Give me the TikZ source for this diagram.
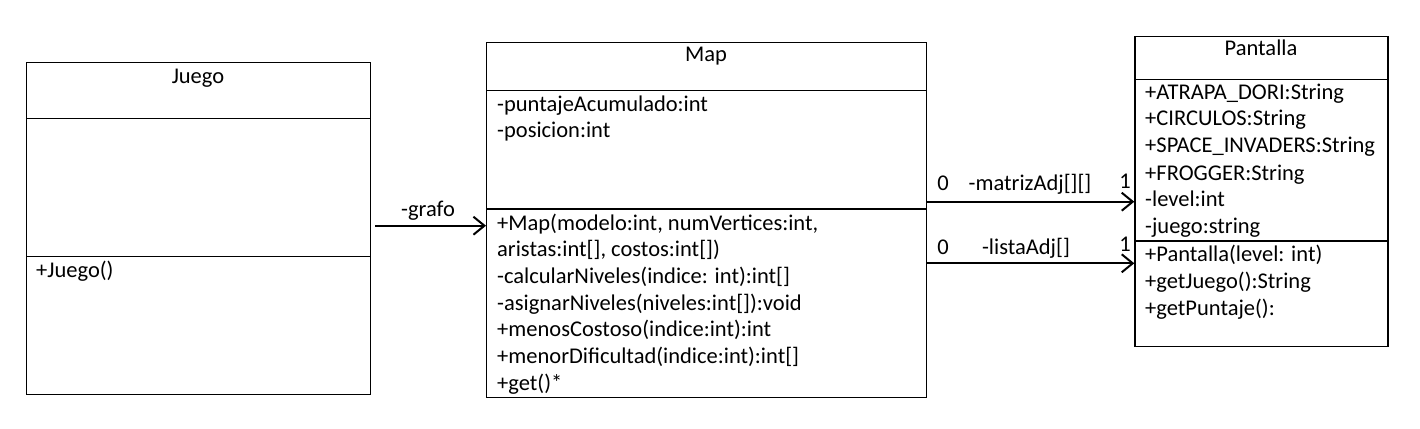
\documentclass[tikz,border=0pt]{standalone}
\usepackage{fontspec}
\setmainfont{Carlito}
\usetikzlibrary{arrows.meta}
\begin{document}
\begin{tikzpicture}[x=1pt,y=-1pt,
  umlbox/.style={draw=black, line width=1.2pt, rectangle, inner sep=0pt, anchor=north west},
  divider/.style={line width=1.2pt},
  member/.style={anchor=base west, inner sep=0pt, font=\fontsize{22.5}{27}\selectfont},
  title/.style={anchor=base, inner sep=0pt, font=\fontsize{22.5}{27}\selectfont},
  assoc/.style={line width=2pt, -{Straight Barb[length=11pt,width=18pt,line width=2pt]}},
  lbl/.style={anchor=base, inner sep=0pt, font=\fontsize{22.5}{27}\selectfont}
]
\useasboundingbox (0,0) rectangle (1420,428);
\fill[white] (0,0) rectangle (1420,428);

% Juego
\node[umlbox, minimum width=344pt, minimum height=332pt] (juego) at (26,62) {};
\draw[divider] (26,118.3) -- (370,118.3);
\draw[divider] (26,256.3) -- (370,256.3);
\node[title] (juegoT) at (198,83) {Juego};
\node[member] (juegoM1) at (36,277) {+Juego()};

% Map
\node[umlbox, minimum width=440pt, minimum height=355.3pt] (map) at (486,41.7) {};
\draw[divider] (486,90.3) -- (926,90.3);
\draw[divider] (486,209) -- (926,209);
\node[title] (mapT) at (706,62) {Map};
\node[member] (mapA1) at (497,111) {-puntajeAcumulado:int};
\node[member] (mapA2) at (497,137.7) {-posicion:int};
\node[member] (mapM1) at (497,230) {+Map(modelo:int, numVertices:int,};
\node[member] (mapM2) at (497,256.7) {aristas:int[], costos:int[])};
\node[member] (mapM3) at (497,283.3) {-calcularNiveles(indice: int):int[]};
\node[member] (mapM4) at (497,310) {-asignarNiveles(niveles:int[]):void};
\node[member] (mapM5) at (497,336.7) {+menosCostoso(indice:int):int};
\node[member] (mapM6) at (497,363.3) {+menorDificultad(indice:int):int[]};
\node[member] (mapM7) at (497,390) {+get()*};

% Pantalla
\node[umlbox, minimum width=253pt, minimum height=310pt] (pant) at (1134.3,35.7) {};
\draw[divider] (1134.3,79.7) -- (1387.3,79.7);
\draw[divider] (1134.3,241) -- (1387.3,241);
\node[title] (pantT) at (1261,56) {Pantalla};
\node[member] (pA1) at (1145,99) {+ATRAPA\_DORI:String};
\node[member] (pA2) at (1145,125.7) {+CIRCULOS:String};
\node[member] (pA3) at (1145,152.3) {+SPACE\_INVADERS:String};
\node[member] (pA4) at (1145,180) {+FROGGER:String};
\node[member] (pA5) at (1145,206.7) {-level:int};
\node[member] (pA6) at (1145,233.3) {-juego:string};
\node[member] (pM1) at (1145,261.7) {+Pantalla(level: int)};
\node[member] (pM2) at (1145,288.3) {+getJuego():String};
\node[member] (pM3) at (1145,315.7) {+getPuntaje():};

% grafo
\coordinate (g0) at (375,225.7);
\draw[assoc] (g0) -- (g0 -| map.west);
\node[lbl] (grafoL) at (428,216) {-grafo};

% matrizAdj
\coordinate (m0) at (927,201.7);
\draw[assoc] (m0) -- (m0 -| pant.west);
\node[lbl] (m0L) at (943,190) {0};
\node[lbl] (mL) at (1030,190) {-matrizAdj[][]};
\node[lbl] (m1L) at (1125,188) {1};

% listaAdj
\coordinate (l0) at (927,263.3);
\draw[assoc] (l0) -- (l0 -| pant.west);
\node[lbl] (l0L) at (943,254) {0};
\node[lbl] (lL) at (1026,254) {-listaAdj[]};
\node[lbl] (l1L) at (1125,251.7) {1};
\end{tikzpicture}
\end{document}
